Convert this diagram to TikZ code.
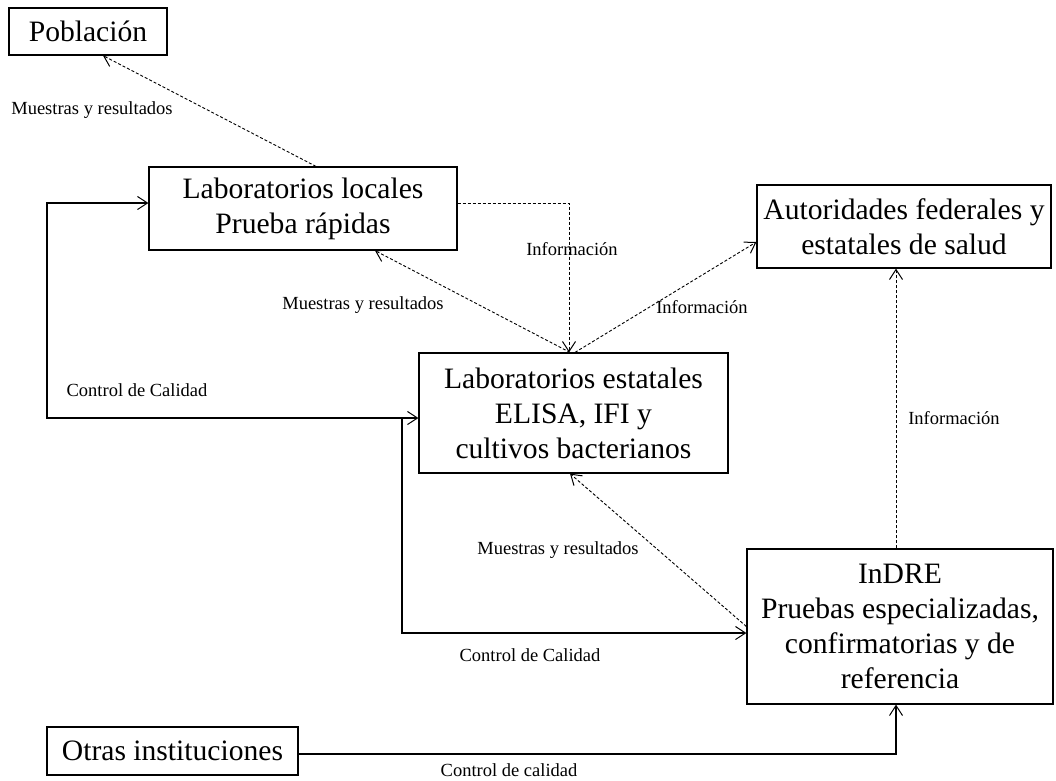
\documentclass[tikz,border=0pt]{standalone}
\usepackage{fontspec}
\setmainfont{Liberation Serif}
\usetikzlibrary{arrows.meta}
\begin{document}
\begin{tikzpicture}[x=1pt,y=-1pt,
  box/.style={draw,line width=1.2pt,inner sep=0pt,align=center,
    font=\fontsize{29.6}{35}\selectfont},
  lbl/.style={inner sep=0pt,font=\fontsize{18.5}{20}\selectfont},
  tip/.style={-{Straight Barb[length=10pt,width=13pt,line width=1pt]}},
  dsh/.style={tip,dash pattern=on 3pt off 2pt,line width=0.9pt},
  sld/.style={tip,line width=1.3pt}]
\useasboundingbox (0,0) rectangle (1056,780);
% boxes
\node[box,minimum width=158pt,minimum height=47pt] (pob) at (88,31.5) {Población};
\node[box,minimum width=308pt,minimum height=83pt] (loc) at (303,208.5) {Laboratorios locales\\Prueba rápidas};
\node[box,minimum width=294pt,minimum height=83pt] (aut) at (904,226.5) {Autoridades federales y\\estatales de salud};
\node[box,minimum width=309pt,minimum height=120pt] (est) at (573.5,413) {Laboratorios estatales\\ELISA, IFI y\\cultivos bacterianos};
\node[box,minimum width=306pt,minimum height=155pt] (ind) at (900,626.5) {InDRE\\Pruebas especializadas,\\confirmatorias y de\\referencia};
\node[box,minimum width=251pt,minimum height=48pt] (otr) at (172.5,751) {Otras instituciones};
% helper coordinates
\coordinate (lx) at (47,300);
\coordinate (bx) at (402,418);
\coordinate (i1) at ([xshift=-4pt]ind.north);
% dashed connectors
\draw[dsh] ([xshift=13pt]loc.north) -- ([xshift=15pt]pob.south);
\draw[dsh] ([yshift=5.5pt]loc.east) -| ([xshift=-4.5pt]est.north);
\draw[dsh] ([xshift=-3.5pt]est.north) -- ([xshift=72pt]loc.south);
\draw[dsh] ([xshift=1.5pt]est.north) -- ([yshift=-15.5pt]aut.west);
\draw[dsh] (i1) -- (i1 |- aut.south);
\draw[dsh] (ind.west) -- ([xshift=-3.5pt]est.south);
% solid connectors
\draw[sld,{Straight Barb[length=10pt,width=13pt,line width=1pt]}-{Straight Barb[length=10pt,width=13pt,line width=1pt]}]
  ([yshift=5.5pt]loc.west) -| (lx) |- ([yshift=-5pt]est.west);
\draw[sld] (bx) |- ([yshift=-6.5pt]ind.west);
\draw[sld] ([yshift=-3pt]otr.east) -| ([xshift=-4pt]ind.south);
% labels
\node[lbl] (l1) at (92,110) {Muestras y resultados};
\node[lbl] (l2) at (572,249) {Información};
\node[lbl] (l3) at (363,305) {Muestras y resultados};
\node[lbl] (l4) at (702,307) {Información};
\node[lbl] (l5) at (137,390) {Control de Calidad};
\node[lbl] (l6) at (954,418) {Información};
\node[lbl] (l7) at (558,550) {Muestras y resultados};
\node[lbl] (l8) at (530,655) {Control de Calidad};
\node[lbl] (l9) at (509,770) {Control de calidad};
\end{tikzpicture}
\end{document}
